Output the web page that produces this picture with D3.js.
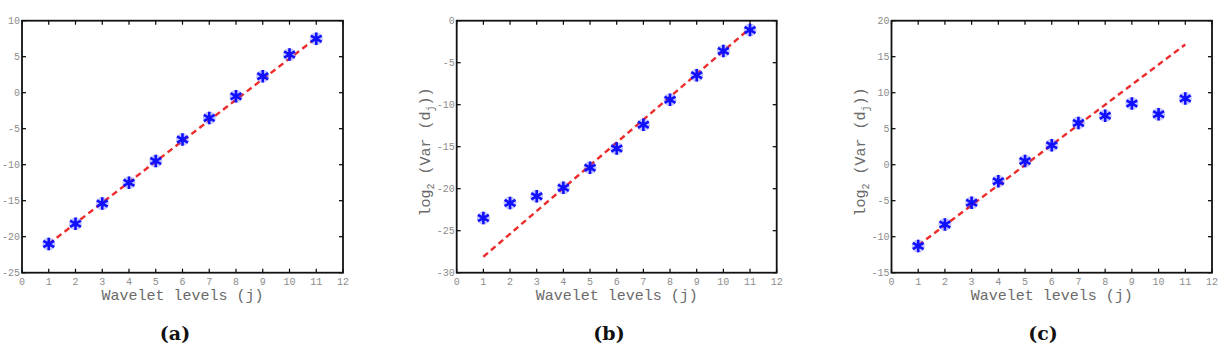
<!DOCTYPE html>
<html lang="en">
<head>
    <meta charset="UTF-8">
    <title>Wavelet variance</title>
    <style>
        body { margin: 0; background: #fff; }
        .tick-label { font-family: "Liberation Mono", "DejaVu Sans Mono", monospace; font-size: 10px; fill: #8c8c8c; }
        .axis-label { font-family: "Liberation Mono", "DejaVu Sans Mono", monospace; font-size: 15px; fill: #6a6a6a; }
        .caption { font-family: "DejaVu Serif", "Liberation Serif", serif; font-size: 19px; font-weight: bold; fill: #111; }
    </style>
</head>
<body>
<svg height="351" width="1224"></svg>

<script src="https://d3js.org/d3.v7.min.js"></script>
<script>

    // wavelet levels j
    var levels = [1, 2, 3, 4, 5, 6, 7, 8, 9, 10, 11];
    var xTicks = [0, 1, 2, 3, 4, 5, 6, 7, 8, 9, 10, 11, 12];

    // log2(Var(d_j))
    var varA = [-21.0, -18.2, -15.4, -12.5, -9.5, -6.5, -3.5, -0.5, 2.3, 5.3, 7.5];
    var varB = [-23.5, -21.7, -20.9, -19.9, -17.5, -15.2, -12.4, -9.4, -6.5, -3.6, -1.1];
    var varC = [-11.3, -8.3, -5.3, -2.3, 0.5, 2.7, 5.8, 6.8, 8.5, 7.0, 9.2];

    // dashed fit line: value at j=1 and at j=11
    var fitA = [-21.0, 7.6];
    var fitB = [-28.1, -0.9];
    var fitC = [-11.2, 16.7];

    var yTicksA = [-25, -20, -15, -10, -5, 0, 5, 10];
    var yTicksB = [-30, -25, -20, -15, -10, -5, 0];
    var yTicksC = [-15, -10, -5, 0, 5, 10, 15, 20];

    var panels = [
        {left: 22,    right: 343,  values: varA, fit: fitA, ticks: yTicksA, caption: "(a)", capX: 175,  ylabel: false},
        {left: 456.7, right: 776.7, values: varB, fit: fitB, ticks: yTicksB, caption: "(b)", capX: 609,  ylabel: true},
        {left: 891.5, right: 1212, values: varC, fit: fitC, ticks: yTicksC, caption: "(c)", capX: 1043, ylabel: true}
    ];

    var plotTop = 20.7, plotBottom = 272.7, tickLen = 4;
    var svg = d3.select("svg");

    panels.forEach(function(p) {
        var x = d3.scaleLinear().domain([0, 12]).range([p.left, p.right]);
        var y = d3.scaleLinear().domain(d3.extent(p.ticks)).range([plotBottom, plotTop]);
        var g = svg.append("g");

        // inward ticks on all four sides
        xTicks.forEach(function(t) {
            g.append("line").attr("x1", x(t)).attr("x2", x(t)).attr("y1", plotBottom).attr("y2", plotBottom - tickLen)
                .attr("stroke", "#000").attr("stroke-width", 1.2);
            g.append("line").attr("x1", x(t)).attr("x2", x(t)).attr("y1", plotTop).attr("y2", plotTop + tickLen)
                .attr("stroke", "#000").attr("stroke-width", 1.2);
            g.append("text").attr("class", "tick-label").attr("x", x(t)).attr("y", plotBottom + 12)
                .attr("text-anchor", "middle").text(t);
        });
        p.ticks.forEach(function(t) {
            g.append("line").attr("x1", p.left).attr("x2", p.left + tickLen).attr("y1", y(t)).attr("y2", y(t))
                .attr("stroke", "#000").attr("stroke-width", 1.2);
            g.append("line").attr("x1", p.right).attr("x2", p.right - tickLen).attr("y1", y(t)).attr("y2", y(t))
                .attr("stroke", "#000").attr("stroke-width", 1.2);
            g.append("text").attr("class", "tick-label").attr("x", p.left - 2).attr("y", y(t) + 3.5)
                .attr("text-anchor", "end").text(t);
        });

        // box
        g.append("rect").attr("x", p.left).attr("y", plotTop)
            .attr("width", p.right - p.left).attr("height", plotBottom - plotTop)
            .attr("fill", "none").attr("stroke", "#111").attr("stroke-width", 1.8);

        // dashed fit
        var line = d3.line().x(function(d) { return x(d[0]) }).y(function(d) { return y(d[1]) });
        g.append("path")
            .datum([[levels[0], p.fit[0]], [levels[levels.length - 1], p.fit[1]]])
            .attr("d", line)
            .attr("fill", "none").attr("stroke", "#ee2b2b").attr("stroke-width", 2.4)
            .attr("stroke-dasharray", "6,4");

        // asterisk markers
        var star = d3.symbol().type(d3.symbolAsterisk).size(110);
        g.selectAll(".halo")
            .data(p.values)
            .enter()
            .append("circle")
            .attr("cx", function(d, i) { return x(levels[i]) })
            .attr("cy", function(d) { return y(d) })
            .attr("r", 6.5)
            .attr("fill", "#3a3aff").attr("opacity", 0.3);
        g.selectAll(".dot")
            .data(p.values)
            .enter()
            .append("path")
            .attr("d", star)
            .attr("transform", function(d, i) { return "translate(" + x(levels[i]) + "," + y(d) + ")" })
            .attr("fill", "none").attr("stroke", "#1010ff").attr("stroke-width", 2.6);

        // labels
        g.append("text").attr("class", "axis-label")
            .attr("x", (p.left + p.right) / 2).attr("y", 300)
            .attr("text-anchor", "middle").text("Wavelet levels (j)");

        if (p.ylabel) {
            var yl = g.append("text").attr("class", "axis-label")
                .attr("text-anchor", "middle")
                .attr("transform", "translate(" + (p.left - 27) + "," + 152 + ") rotate(-90)");
            yl.append("tspan").text("log");
            yl.append("tspan").attr("dy", 4).attr("font-size", 10).text("2");
            yl.append("tspan").attr("dy", -4).text(" (Var (d");
            yl.append("tspan").attr("dy", 4).attr("font-size", 10).text("j");
            yl.append("tspan").attr("dy", -4).text("))");
        }

        svg.append("text").attr("class", "caption").attr("x", p.capX).attr("y", 340)
            .attr("text-anchor", "middle").text(p.caption);
    });

</script>
</body>
</html>
